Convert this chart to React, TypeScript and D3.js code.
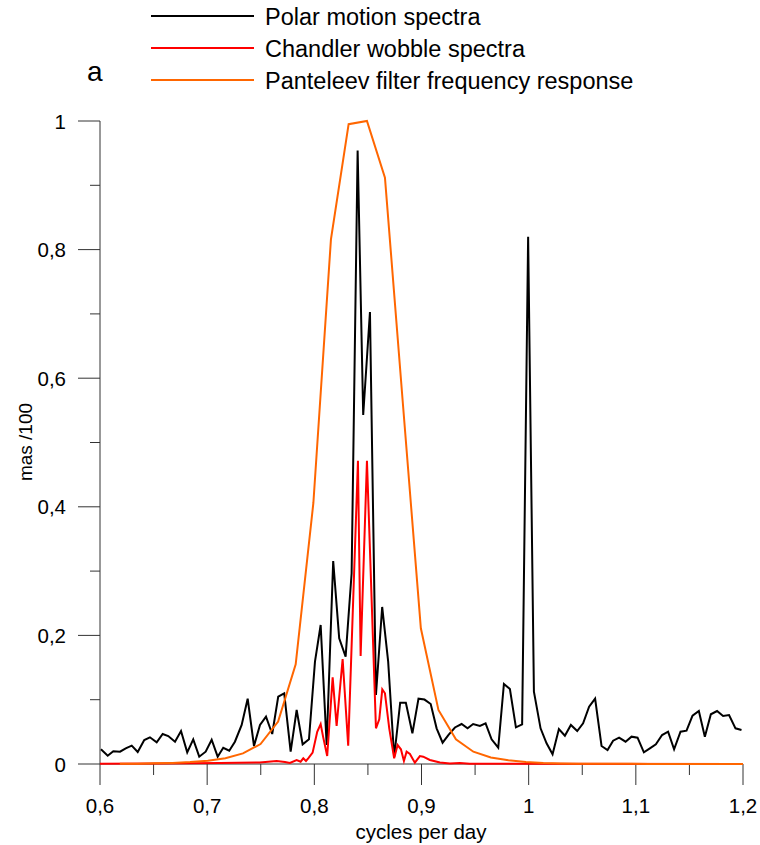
import React from "react";
import * as d3 from "d3";

// polar motion spectrum (black)
const polarFreq = [
  0.6009, 0.6072, 0.6124, 0.6187, 0.624, 0.6296, 0.6352, 0.6413, 0.6466, 0.6529,
  0.6585, 0.6637, 0.67, 0.6756, 0.6814, 0.687, 0.6926, 0.6986, 0.7042, 0.7098,
  0.715, 0.7206, 0.7259, 0.7322, 0.7378, 0.7437, 0.7493, 0.7549, 0.7607, 0.7663,
  0.7719, 0.7779, 0.7835, 0.7891, 0.795, 0.8006, 0.8059, 0.8115, 0.8176, 0.8232,
  0.8292, 0.8348, 0.8404, 0.8456, 0.8519, 0.8575, 0.8633, 0.8689, 0.8745, 0.8801,
  0.8854, 0.8915, 0.8972, 0.9028, 0.9086, 0.9141, 0.9197, 0.9254, 0.9312, 0.9374,
  0.943, 0.9482, 0.9545, 0.9598, 0.9654, 0.9716, 0.9769, 0.9825, 0.9881, 0.9939,
  0.9995, 1.0049, 1.0111, 1.0167, 1.0223, 1.0282, 1.0338, 1.0394, 1.0453, 1.0508,
  1.0564, 1.062, 1.068, 1.0736, 1.0788, 1.0844, 1.0904, 1.096, 1.1016, 1.1075,
  1.1131, 1.1187, 1.1245, 1.1301, 1.1357, 1.1417, 1.1473, 1.1529, 1.1588, 1.1644,
  1.17, 1.1758, 1.1814, 1.187, 1.193, 1.1986,
];
const polarVal = [
  0.0229, 0.0129, 0.0198, 0.0191, 0.0244, 0.0285, 0.0187, 0.0373, 0.0415, 0.0337,
  0.0467, 0.0435, 0.0347, 0.0513, 0.0182, 0.0384, 0.0114, 0.0191, 0.0378, 0.0114,
  0.0253, 0.0207, 0.0347, 0.0607, 0.1016, 0.028, 0.0607, 0.0736, 0.0467, 0.1047,
  0.11, 0.0191, 0.084, 0.0306, 0.0384, 0.1591, 0.2162, 0.0295, 0.3157, 0.1955,
  0.1669, 0.2966, 0.954, 0.5428, 0.703, 0.1073, 0.2442, 0.1591, 0.0109, 0.0953,
  0.0953, 0.0477, 0.1016, 0.1002, 0.0933, 0.0555, 0.0331, 0.0456, 0.0568, 0.0622,
  0.0555, 0.0622, 0.0591, 0.0633, 0.0384, 0.0253, 0.1244, 0.1166, 0.0571, 0.0617,
  0.82, 0.1124, 0.0555, 0.0322, 0.0151, 0.0544, 0.044, 0.0607, 0.0513, 0.0633,
  0.0891, 0.1016, 0.028, 0.0218, 0.0362, 0.0409, 0.0347, 0.0425, 0.0409, 0.0182,
  0.0244, 0.0306, 0.0451, 0.0502, 0.0229, 0.0502, 0.0518, 0.0751, 0.0824, 0.0425,
  0.0773, 0.0824, 0.0747, 0.0762, 0.0555, 0.0529,
];

// chandler wobble spectrum (red)
const chandlerFreq = [
  0.6, 0.656, 0.712, 0.749, 0.7648, 0.7726, 0.7772, 0.7835, 0.7872, 0.7897,
  0.7922, 0.7943, 0.7984, 0.8027, 0.8059, 0.8083, 0.812, 0.8171, 0.8208, 0.8264,
  0.8316, 0.8407, 0.8432, 0.8491, 0.8575, 0.8606, 0.8634, 0.8659, 0.8699, 0.8745,
  0.8777, 0.8808, 0.8836, 0.8861, 0.8892, 0.8938, 0.8985, 0.9016, 0.9078, 0.9172,
  0.9265, 0.9358, 0.945, 0.973, 1.2,
];
const chandlerVal = [
  0.0003, 0.0008, 0.0016, 0.0023, 0.0047, 0.0031, 0.0016, 0.0062, 0.0036, 0.0089,
  0.0047, 0.0089, 0.0176, 0.0502, 0.0622, 0.0415, 0.0124, 0.1348, 0.0591, 0.1633,
  0.0285, 0.4717, 0.168, 0.4717, 0.0555, 0.0695, 0.1162, 0.11, 0.0555, 0.0089,
  0.0295, 0.0229, 0.0047, 0.0191, 0.0156, 0.002, 0.0124, 0.0114, 0.0062, 0.0023,
  0.0008, 0.0016, 0.0005, 0.0003, 0,
];

// panteleev filter response (orange)
const filterFreq = [
  0.6185, 0.6349, 0.6513, 0.6677, 0.6841, 0.7006, 0.717, 0.7334, 0.7498, 0.7662,
  0.7826, 0.7991, 0.8155, 0.832, 0.8491, 0.8659, 0.8826, 0.8994, 0.9158, 0.9321,
  0.9484, 0.9647, 0.9811, 0.9974, 1.0137, 1.03, 1.0465, 1.0629, 1.0793, 1.0957,
  1.1121, 1.1285, 1.145, 1.1614, 1.1778, 1.2,
];
const filterVal = [
  0.0003, 0.0005, 0.001, 0.0017, 0.003, 0.005, 0.009, 0.0165, 0.031, 0.066,
  0.155, 0.406, 0.816, 0.995, 1.0, 0.912, 0.561, 0.211, 0.084, 0.0384,
  0.0191, 0.0101, 0.0058, 0.0031, 0.0016, 0.0008, 0.0005, 0.0003, 0.0002, 0.0002,
  0.0001, 0.0001, 0.0001, 0.0001, 0, 0,
];

const xMajor = [0.6, 0.7, 0.8, 0.9, 1.0, 1.1, 1.2];
const xMinor = [0.65, 0.75, 0.85, 0.95, 1.05, 1.15];
const yMajor = [0, 0.2, 0.4, 0.6, 0.8, 1];
const yMinor = [0.1, 0.3, 0.5, 0.7, 0.9];

const legendItems = [
  { label: "Polar motion spectra", color: "#000000" },
  { label: "Chandler wobble spectra", color: "#ff0000" },
  { label: "Panteleev filter frequency response", color: "#ff6600" },
];

const W = 760;
const H = 845;
const FONT = "'Liberation Sans', Arial, sans-serif";

const fmt = (v: number) => (Math.round(v * 10) / 10).toString().replace(".", ",");

export default function App() {
  const x = d3.scaleLinear().domain([0.6, 1.2]).range([100, 743]);
  const y = d3.scaleLinear().domain([0, 1]).range([764, 121]);

  const line = d3
    .line<[number, number]>()
    .x((d) => x(d[0]))
    .y((d) => y(d[1]));

  const polar = polarFreq.map((f, i) => [f, polarVal[i]] as [number, number]);
  const chandler = chandlerFreq.map((f, i) => [f, chandlerVal[i]] as [number, number]);
  const filter = filterFreq.map((f, i) => [f, filterVal[i]] as [number, number]);

  const axisColor = "#333";

  return (
    <svg
      width={W}
      height={H}
      style={{ position: "absolute", left: 0, top: 0, background: "#fff" }}
      fontFamily={FONT}
    >
      <rect width={W} height={H} fill="#fff" />

      {/* legend */}
      {legendItems.map((d, i) => (
        <g key={d.label} transform={`translate(0, ${16 + i * 32})`}>
          <line x1={151} x2={254} y1={0} y2={0} stroke={d.color} strokeWidth={2} />
          <text x={265} y={8.5} fontSize={23.5} fill="#000">
            {d.label}
          </text>
        </g>
      ))}
      <text x={87} y={81} fontSize={28} fill="#000">
        a
      </text>

      {/* axes */}
      <line x1={x(0.6)} x2={x(1.2)} y1={y(0)} y2={y(0)} stroke={axisColor} strokeWidth={1} />
      <line x1={x(0.6)} x2={x(0.6)} y1={y(0)} y2={y(1)} stroke={axisColor} strokeWidth={1} />
      {xMajor.map((t) => (
        <g key={"xM" + t}>
          <line x1={x(t)} x2={x(t)} y1={y(0)} y2={y(0) + 21} stroke={axisColor} />
          <text x={x(t)} y={813} fontSize={20.5} textAnchor="middle" fill="#000">
            {fmt(t)}
          </text>
        </g>
      ))}
      {xMinor.map((t) => (
        <line key={"xm" + t} x1={x(t)} x2={x(t)} y1={y(0)} y2={y(0) + 11} stroke={axisColor} />
      ))}
      {yMajor.map((t) => (
        <g key={"yM" + t}>
          <line x1={x(0.6) - 22} x2={x(0.6)} y1={y(t)} y2={y(t)} stroke={axisColor} />
          <text x={66} y={y(t) + 7.5} fontSize={20.5} textAnchor="end" fill="#000">
            {fmt(t)}
          </text>
        </g>
      ))}
      {yMinor.map((t) => (
        <line key={"ym" + t} x1={x(0.6) - 10} x2={x(0.6)} y1={y(t)} y2={y(t)} stroke={axisColor} />
      ))}
      <text x={421} y={839} fontSize={20.5} textAnchor="middle" fill="#000">
        cycles per day
      </text>
      <text
        transform={`translate(32, 442) rotate(-90)`}
        fontSize={19}
        textAnchor="middle"
        fill="#000"
      >
        mas /100
      </text>

      {/* series */}
      <path d={line(polar) ?? ""} fill="none" stroke="#000" strokeWidth={2} strokeLinejoin="miter" />
      <path d={line(chandler) ?? ""} fill="none" stroke="#ff0000" strokeWidth={2} />
      <path d={line(filter) ?? ""} fill="none" stroke="#ff6600" strokeWidth={2} />
    </svg>
  );
}
